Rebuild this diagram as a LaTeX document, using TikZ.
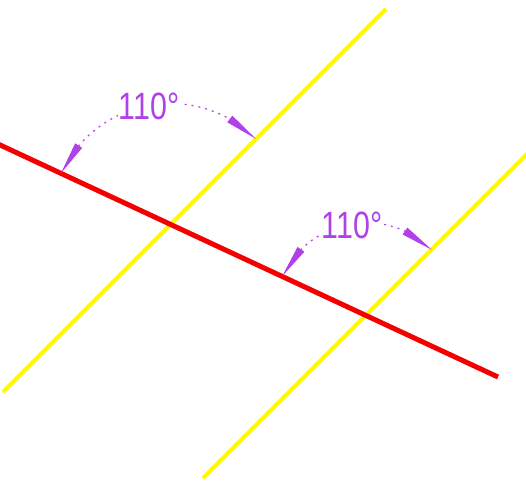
\documentclass[tikz,border=0pt]{standalone}
\usepackage{fontspec}
\setmainfont{Liberation Sans}
\usetikzlibrary{arrows.meta,bending,calc}
\definecolor{yel}{RGB}{255,250,0}
\definecolor{red1}{RGB}{245,0,0}
\definecolor{purp}{RGB}{176,64,232}
\tikzset{
  yline/.style={yel, line width=4pt},
  rline/.style={red1, line width=5pt},
  anglearc/.style={purp, line width=1.2pt, dash pattern=on 2pt off 5pt,
    {Triangle[length=33pt,width=8pt,flex=1]}-{Triangle[length=33pt,width=8pt,flex=1]}},
  anglelabel/.style={purp, fill=white, inner sep=1pt, font=\fontsize{38}{38}\selectfont}
}
\begin{document}
\begin{tikzpicture}[x=1pt,y=-1pt]
\useasboundingbox (0,0) rectangle (526,480);
% line endpoints
\coordinate (r1) at (-2,144);
\coordinate (r2) at (498,377);
\coordinate (a1) at (3,392);
\coordinate (a2) at (386,9);
\coordinate (b1) at (203,478);
\coordinate (b2) at (530,151);
% intersections
\coordinate (c1) at (170.5,224.5);
\coordinate (c2) at (366.3,315.7);
\draw[yline] (a1) -- (a2);
\draw[yline] (b1) -- (b2);
\draw[rline] (r1) -- (r2);
% angle arcs (y axis points down, so angles are negated)
\draw[anglearc] ($(c1)+(-155:121)$) arc[start angle=-155, end angle=-45, radius=121];
\draw[anglearc] ($(c2)+(-155:93)$) arc[start angle=-155, end angle=-45, radius=93];
\node[anglelabel] (l1) at (149,106) {\scalebox{0.8}[1]{110°}};
\node[anglelabel] (l2) at (352,225) {\scalebox{0.8}[1]{110°}};
\end{tikzpicture}
\end{document}
